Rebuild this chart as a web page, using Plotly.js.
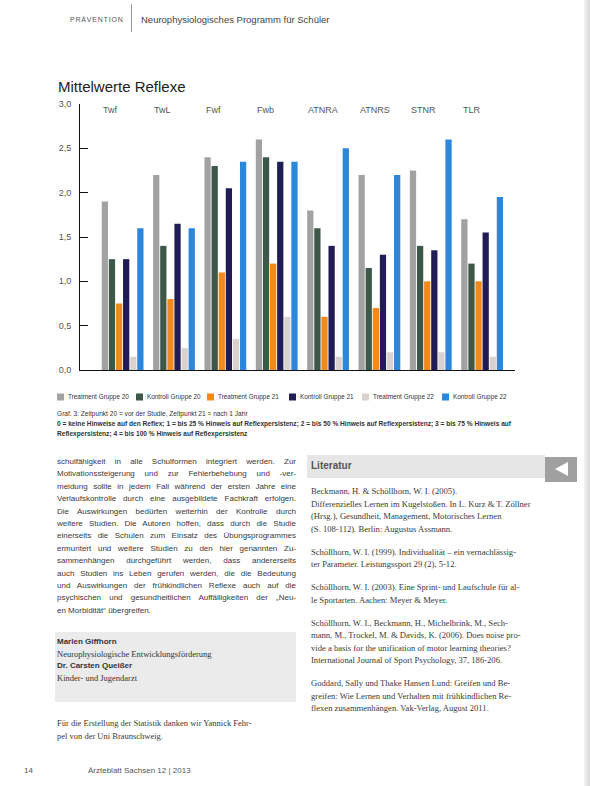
<!DOCTYPE html>
<html><head><meta charset="utf-8">
<script src="https://cdn.plot.ly/plotly-3.0.1.min.js"></script>
<style>
html,body{margin:0;padding:0;background:#fff;}
body{width:590px;height:786px;position:relative;overflow:hidden;font-family:"Liberation Sans",Arial,sans-serif;color:#333;}
.abs{position:absolute;}
.ln{white-space:nowrap;text-align:justify;text-align-last:justify;}
.ln.last{text-align-last:left;}
#chart{position:absolute;left:0;top:60px;width:590px;height:360px;}
.cap{position:absolute;left:57px;font-size:6.6px;line-height:9.5px;color:#333;white-space:nowrap;}
.body{position:absolute;left:57px;width:239px;font-size:8px;line-height:12.4px;color:#3a3a3a;}
.refs{position:absolute;left:311px;width:234px;font-family:"Liberation Serif","Times New Roman",serif;font-size:8.6px;line-height:12.5px;color:#3a3a3a;}
.refs p{margin:0 0 10.5px 0;}
</style></head><body>

<!-- header -->
<div class="abs" style="left:70px;top:16px;font-size:7px;letter-spacing:0.8px;color:#555;">PRÄVENTION</div>
<div class="abs" style="left:131px;top:4px;width:1px;height:28px;background:#999;"></div>
<div class="abs" style="left:141px;top:14px;font-size:9.5px;color:#444;">Neurophysiologisches Programm für Schüler</div>
<div class="abs" style="left:584px;top:0;width:6px;height:786px;background:linear-gradient(to right,#f4f4f4,#d8d8d8);"></div>

<div id="chart"></div>

<!-- caption -->
<div class="cap" style="top:409px;">Graf. 3: Zeitpunkt 20 = vor der Studie, Zeitpunkt 21 = nach 1 Jahr</div>
<div class="cap" style="top:419px;font-weight:bold;">0 = keine Hinweise auf den Reflex; 1 = bis 25 % Hinweis auf Reflexpersistenz; 2 = bis 50 % Hinweis auf Reflexpersistenz; 3 = bis 75 % Hinweis auf</div>
<div class="cap" style="top:428.5px;font-weight:bold;">Reflexpersistenz; 4 = bis 100 % Hinweis auf Reflexpersistenz</div>

<!-- left column -->
<div class="body" style="top:456px;">
<div class="ln">schulfähigkeit in alle Schulformen integriert werden. Zur</div>
<div class="ln">Motivationssteigerung und zur Fehlerbehebung und -ver-</div>
<div class="ln">meidung sollte in jedem Fall während der ersten Jahre eine</div>
<div class="ln">Verlaufskontrolle durch eine ausgebildete Fachkraft erfolgen.</div>
<div class="ln">Die Auswirkungen bedürfen weiterhin der Kontrolle durch</div>
<div class="ln">weitere Studien. Die Autoren hoffen, dass durch die Studie</div>
<div class="ln">einerseits die Schulen zum Einsatz des Übungsprogrammes</div>
<div class="ln">ermuntert und weitere Studien zu den hier genannten Zu-</div>
<div class="ln">sammenhängen durchgeführt werden, dass andererseits</div>
<div class="ln">auch Studien ins Leben gerufen werden, die die Bedeutung</div>
<div class="ln">und Auswirkungen der frühkindlichen Reflexe auch auf die</div>
<div class="ln">psychischen und gesundheitlichen Auffälligkeiten der „Neu-</div>
<div class="ln last">en Morbidität“ übergreifen.</div>
</div>

<div class="abs" style="left:55px;top:632px;width:241px;height:70px;background:#ebebeb;"></div>
<div class="abs" style="left:57px;top:636px;font-size:8px;line-height:12px;color:#333;">
<div style="font-weight:bold;">Marlen Giffhorn</div>
<div style="font-family:'Liberation Serif',serif;font-size:8.5px;">Neurophysiologische Entwicklungsförderung</div>
<div style="font-weight:bold;">Dr. Carsten Queißer</div>
<div style="font-family:'Liberation Serif',serif;font-size:8.5px;">Kinder- und Jugendarzt</div>
</div>

<div class="abs" style="left:57px;top:717px;font-family:'Liberation Serif',serif;font-size:8.5px;line-height:12.5px;color:#3a3a3a;">
<div>Für die Erstellung der Statistik danken wir Yannick Fehr-</div>
<div>pel von der Uni Braunschweig.</div>
</div>

<!-- right column -->
<div class="abs" style="left:307px;top:455px;width:238px;height:23px;background:#e6e6e6;"></div>
<div class="abs" style="left:311px;top:460px;font-size:10px;font-weight:bold;color:#555;">Literatur</div>
<div class="abs" style="left:545px;top:457px;width:32px;height:25px;background:#a0a0a0;"></div>
<div class="abs" style="left:555px;top:462px;width:0;height:0;border-top:7.5px solid transparent;border-bottom:7.5px solid transparent;border-right:13px solid #fff;"></div>

<div class="refs" style="top:485px;">
<p>Beckmann, H. &amp; Schöllhorn, W. I. (2005).<br>Differenzielles Lernen im Kugelstoßen. In L. Kurz &amp; T. Zöllner<br>(Hrsg.), Gesundheit, Management, Motorisches Lernen<br>(S. 108-112). Berlin: Augustus Assmann.</p>
<p>Schöllhorn, W. I. (1999). Individualität – ein vernachlässig-<br>ter Parameter. Leistungssport 29 (2), 5-12.</p>
<p>Schöllhorn, W. I. (2003). Eine Sprint- und Laufschule für al-<br>le Sportarten. Aachen: Meyer &amp; Meyer.</p>
<p>Schöllhorn, W. I., Beckmann, H., Michelbrink, M., Sech-<br>mann, M., Trockel, M. &amp; Davids, K. (2006). Does noise pro-<br>vide a basis for the unification of motor learning theories?<br>International Journal of Sport Psychology, 37, 186-206.</p>
<p>Goddard, Sally und Thake Hansen Lund: Greifen und Be-<br>greifen: Wie Lernen und Verhalten mit frühkindlichen Re-<br>flexen zusammenhängen. Vak-Verlag, August 2011.</p>
</div>

<!-- footer -->
<div class="abs" style="left:24px;top:766px;font-size:8px;color:#555;">14</div>
<div class="abs" style="left:88px;top:766px;font-size:8px;color:#555;">Ärzteblatt Sachsen 12 | 2013</div>

<script>
// ---- data ----
const categories = ["Twf", "TwL", "Fwf", "Fwb", "ATNRA", "ATNRS", "STNR", "TLR"];
const seriesNames = ["Treatment Gruppe 20", "Kontroll Gruppe 20", "Treatment Gruppe 21", "Kontroll Gruppe 21", "Treatment Gruppe 22", "Kontroll Gruppe 22"];
const treatment20 = [1.9, 2.2, 2.4, 2.6, 1.8, 2.2, 2.25, 1.7];
const kontroll20  = [1.25, 1.4, 2.3, 2.4, 1.6, 1.15, 1.4, 1.2];
const treatment21 = [0.75, 0.8, 1.1, 1.2, 0.6, 0.7, 1.0, 1.0];
const kontroll21  = [1.25, 1.65, 2.05, 2.35, 1.4, 1.3, 1.35, 1.55];
const treatment22 = [0.15, 0.25, 0.35, 0.6, 0.15, 0.2, 0.2, 0.15];
const kontroll22  = [1.6, 1.6, 2.35, 2.35, 2.5, 2.2, 2.6, 1.95];
const yTicks = [0, 0.5, 1.0, 1.5, 2.0, 2.5, 3.0];

// ---- style ----
const colors = ["#a2a2a2", "#3d5849", "#f08a1d", "#1f1c56", "#dad2ce", "#2b86dc"];
const seriesValues = [treatment20, kontroll20, treatment21, kontroll21, treatment22, kontroll22];

const traces = seriesValues.map((vals, i) => ({
  type: "bar", name: seriesNames[i], x: categories, y: vals,
  marker: {color: colors[i]}, showlegend: false, hoverinfo: "x+y+name"
}));

// page-pixel helpers for the decorative legend
const PL = 80, PR = 515, PT = 104, PB = 370;
const px2x = p => (p - PL) / (PR - PL);
const py2y = p => (PB - p) / (PB - PT);

const annotations = categories.map((c, i) => ({
  x: i - 0.42, y: 2.93, xref: "x", yref: "y", text: c, showarrow: false,
  xanchor: "left", yanchor: "middle", font: {size: 9, color: "#555", family: "Liberation Sans, Arial, sans-serif"}
}));
const shapes = [];
const legendPos = [57, 136, 207, 289, 362, 442];
seriesNames.forEach((n, i) => {
  shapes.push({type: "rect", xref: "paper", yref: "paper",
    x0: px2x(legendPos[i]), x1: px2x(legendPos[i] + 7), y0: py2y(400.5), y1: py2y(393.5),
    fillcolor: colors[i], line: {width: 0}});
  annotations.push({x: px2x(legendPos[i] + 8.5), y: py2y(397), xref: "paper", yref: "paper",
    text: n, showarrow: false, xanchor: "left", yanchor: "middle",
    font: {size: 6.4, color: "#333", family: "Liberation Sans, Arial, sans-serif"}});
});

const layout = {
  width: 590, height: 360,
  margin: {l: 80, r: 75, t: 44, b: 50, pad: 0},
  paper_bgcolor: "rgba(0,0,0,0)", plot_bgcolor: "rgba(0,0,0,0)",
  separators: ",.",
  title: {text: "Mittelwerte Reflexe", x: 58/590, xanchor: "left", xref: "container",
          y: 1 - 27/360, yref: "container", yanchor: "middle",
          font: {size: 15, color: "#222", family: "Liberation Sans, Arial, sans-serif"}},
  barmode: "group", bargap: 0.17, bargroupgap: 0.12,
  showlegend: false,
  xaxis: {type: "category", range: [-0.83, 7.64], showline: true, linecolor: "#111", linewidth: 1,
          showticklabels: false, ticks: "", showgrid: false, zeroline: false, fixedrange: true},
  yaxis: {range: [0, 3.0], tickvals: yTicks, tickformat: ".1f", showline: true, linecolor: "#111", linewidth: 1,
          ticks: "inside", ticklen: 8, tickcolor: "#111", showgrid: false, zeroline: false,
          ticklabelstandoff: 6,
          tickfont: {size: 9, color: "#555", family: "Liberation Sans, Arial, sans-serif"}},
  annotations: annotations, shapes: shapes
};
Plotly.newPlot("chart", traces, layout, {displayModeBar: false, staticPlot: true});
</script>
</body></html>
